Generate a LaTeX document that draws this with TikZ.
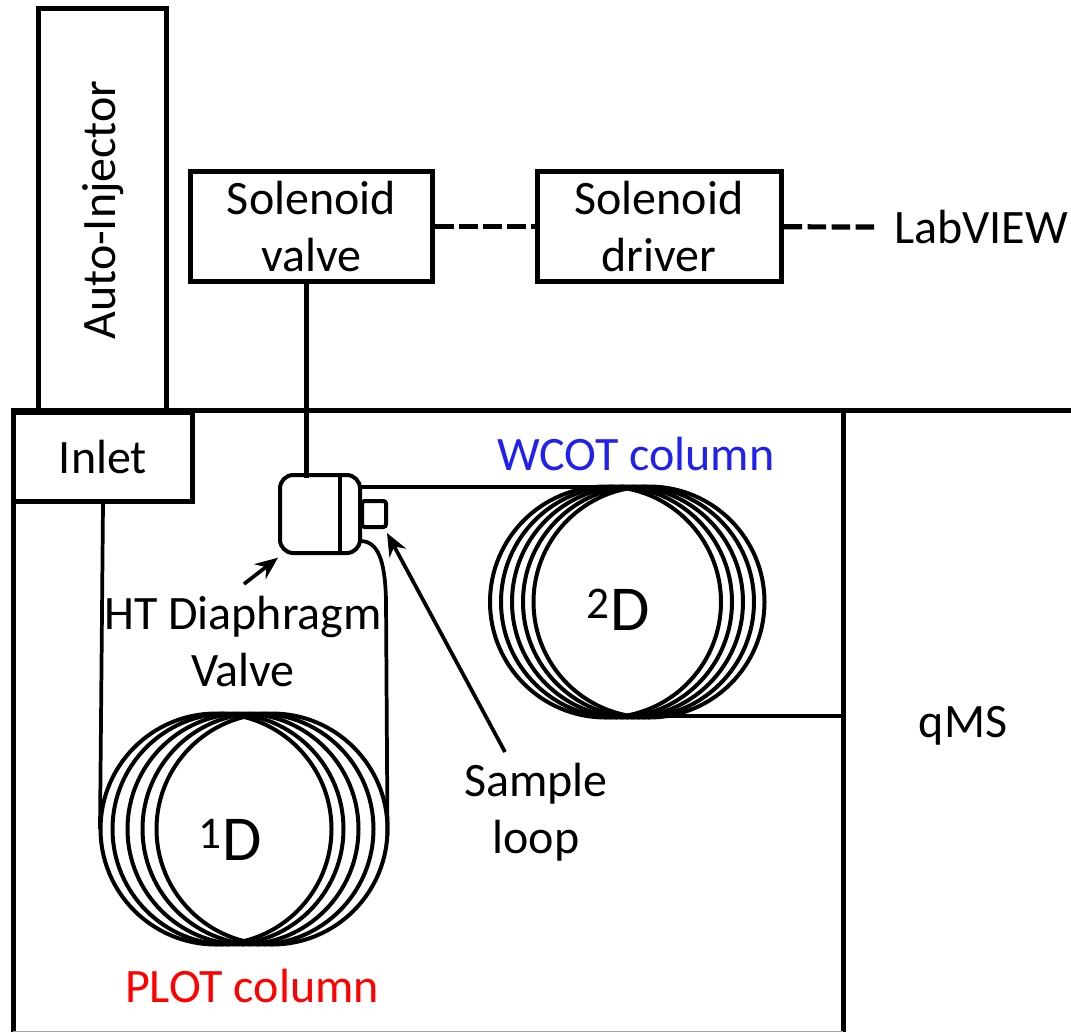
\documentclass[tikz,border=0pt]{standalone}
\usepackage{fontspec}
\setmainfont{Carlito}
\tikzset{every picture/.style={line width=3.75pt}}
\tikzset{
  unitbox/.style={draw,line width=3.75pt,inner sep=0pt,align=center,font=\fontsize{36}{42.75}\selectfont},
  lbl/.style={inner sep=0pt,align=center,font=\fontsize{36}{42.75}\selectfont},
  coil/.style={line width=3pt},
  pipe/.style={line width=2.8pt},
  ptr/.style={line width=2.8pt,-{Stealth[length=17pt,width=14pt]}},
  ctrl/.style={line width=3.9pt,dash pattern=on 14pt off 4pt}
}
\usetikzlibrary{arrows.meta}

\begin{document}
\begin{tikzpicture}[x=0.75pt,y=0.75pt,yscale=-1,xscale=1]
\useasboundingbox (0,0) rectangle (1071,1032);

%Oven walls
\draw (13,1032) -- (13,410) -- (1071,410);
\draw (843,410) -- (843,1032);
\draw [line width=0.6pt,black!35] (13,1031) -- (843,1031);

%Boxes
\node [unitbox,minimum width=96pt,minimum height=301.5pt] (injector) at (102,209) {};
\node [lbl,rotate=90] (injectorlabel) at (103,210) {Auto-Injector};
\node [unitbox,fill=white,minimum width=134pt,minimum height=67pt] (inlet) at (103,457) {Inlet};
\node [unitbox,minimum width=182pt,minimum height=82pt] (solvalve) at (311.5,226.5) {Solenoid\\valve};
\node [unitbox,minimum width=183pt,minimum height=82pt] (soldriver) at (659,226.5) {Solenoid\\driver};
\node [lbl] (labview) at (981,227) {LabVIEW};
\coordinate (labviewend) at (878,227);

%Valve
\node [draw,line width=3pt,rounded corners=10pt,minimum width=60pt,minimum height=58.5pt,inner sep=0pt] (htvalve) at (320,514) {};
\draw [line width=3pt] ([xshift=15pt]htvalve.north) -- ([xshift=15pt]htvalve.south);
\node [draw,line width=3pt,rounded corners=2pt,minimum width=18pt,minimum height=19.5pt,inner sep=0pt,anchor=west] (loopport) at ([xshift=-1.5pt]htvalve.east) {};

%Coils
\foreach \cx in {216,228,243,258,272} \draw [coil] (\cx,829) circle (115.5);
\foreach \cx in {605.5,616.5,627.5,638.5,649} \draw [coil] (\cx,602) circle (115.5);
\coordinate (plotleft) at (100,829);
\coordinate (plotright) at (387.5,835);
\coordinate (wcottop) at (625,487);
\coordinate (wcotbot) at (630,716);
\coordinate (samplearrow) at (505,752);
\coordinate (valvearrow) at (244,584);

%Connectors
\draw [ctrl] (solvalve) -- (soldriver);
\draw [ctrl] (soldriver) -- (labviewend);
\draw (solvalve.south -| htvalve.north) ++(-14,0) -- ++(0,194);
\draw [pipe] (inlet.south) -- (plotleft);
\draw [pipe] (360,487) -- (wcottop);
\draw [pipe] (wcotbot) -- (843,716);
\draw [pipe] (360,541) .. controls (378,541) and (385,560) .. (386,600) -- (plotright);
\draw [ptr] (valvearrow) -- ([yshift=2pt]htvalve.south west);
\draw [ptr] (samplearrow) -- (387,533);

%Text
\node [lbl] (htlabel) at (243,642) {HT Diaphragm\\Valve};
\node [lbl] (looplabel) at (536,812) {Sample\\loop};
\node [lbl,text={rgb,255:red,32;green,32;blue,240}] (wcotlabel) at (636,454) {WCOT column};
\node [lbl,text=red] (plotlabel) at (252,986) {PLOT column};
\node [lbl] (qmslabel) at (963,726) {qMS};
\node [lbl,font=\fontsize{48}{50}\selectfont] (plotd) at (230,840) {\textsuperscript{\fontsize{34}{36}\selectfont 1}D};
\node [lbl,font=\fontsize{48}{50}\selectfont] (wcotd) at (618,610) {\textsuperscript{\fontsize{34}{36}\selectfont 2}D};

\end{tikzpicture}
\end{document}
